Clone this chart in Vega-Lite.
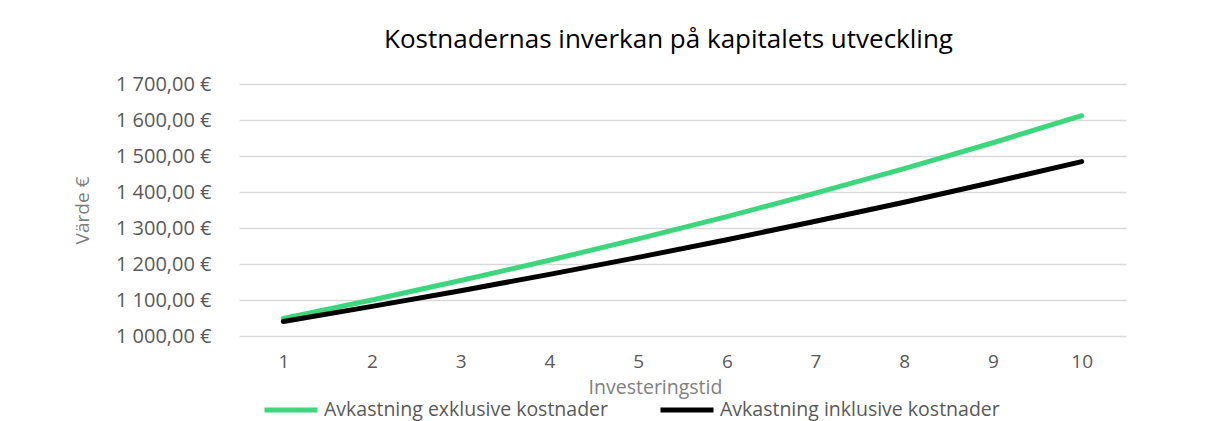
{
  "$schema": "https://vega.github.io/schema/vega-lite/v6.json",
  "width": 887,
  "height": 252,
  "autosize": {"type": "none"},
  "padding": {"left": 239, "top": 84, "right": 93, "bottom": 85},
  "background": "white",
  "title": {
    "text": "Kostnadernas inverkan på kapitalets utveckling",
    "font": "Open Sans",
    "fontSize": 26,
    "fontWeight": "normal",
    "color": "#000000",
    "dx": -14,
    "offset": 21
  },
  "config": {
    "locale": {
      "number": {"decimal": ",", "thousands": " ", "grouping": [3], "currency": ["", " €"]}
    },
    "view": {"stroke": null},
    "font": "Open Sans"
  },
  "data": {
    "values": [
      {"tid": 1, "serie": "Avkastning exklusive kostnader", "varde": 1048.9},
      {"tid": 2, "serie": "Avkastning exklusive kostnader", "varde": 1100.2},
      {"tid": 3, "serie": "Avkastning exklusive kostnader", "varde": 1154.0},
      {"tid": 4, "serie": "Avkastning exklusive kostnader", "varde": 1210.4},
      {"tid": 5, "serie": "Avkastning exklusive kostnader", "varde": 1269.6},
      {"tid": 6, "serie": "Avkastning exklusive kostnader", "varde": 1331.7},
      {"tid": 7, "serie": "Avkastning exklusive kostnader", "varde": 1396.8},
      {"tid": 8, "serie": "Avkastning exklusive kostnader", "varde": 1465.1},
      {"tid": 9, "serie": "Avkastning exklusive kostnader", "varde": 1536.8},
      {"tid": 10, "serie": "Avkastning exklusive kostnader", "varde": 1611.9},
      {"tid": 1, "serie": "Avkastning inklusive kostnader", "varde": 1040.3},
      {"tid": 2, "serie": "Avkastning inklusive kostnader", "varde": 1082.2},
      {"tid": 3, "serie": "Avkastning inklusive kostnader", "varde": 1125.8},
      {"tid": 4, "serie": "Avkastning inklusive kostnader", "varde": 1171.2},
      {"tid": 5, "serie": "Avkastning inklusive kostnader", "varde": 1218.4},
      {"tid": 6, "serie": "Avkastning inklusive kostnader", "varde": 1267.5},
      {"tid": 7, "serie": "Avkastning inklusive kostnader", "varde": 1318.6},
      {"tid": 8, "serie": "Avkastning inklusive kostnader", "varde": 1371.7},
      {"tid": 9, "serie": "Avkastning inklusive kostnader", "varde": 1427.0},
      {"tid": 10, "serie": "Avkastning inklusive kostnader", "varde": 1484.5}
    ]
  },
  "mark": {"type": "line", "strokeWidth": 5, "strokeCap": "round", "strokeJoin": "round"},
  "encoding": {
    "x": {
      "field": "tid",
      "type": "ordinal",
      "scale": {"type": "point", "padding": 0.5},
      "title": "Investeringstid",
      "axis": {
        "labelAngle": 0,
        "domain": false,
        "ticks": false,
        "grid": false,
        "labelFont": "Open Sans",
        "labelFontSize": 19,
        "labelColor": "#595959",
        "labelPadding": 16,
        "titleFont": "Open Sans",
        "titleFontSize": 19.5,
        "titleFontWeight": "normal",
        "titleColor": "#7f7f7f",
        "titlePadding": 7,
        "titleX": 416
      }
    },
    "y": {
      "field": "varde",
      "type": "quantitative",
      "scale": {"domain": [1000, 1700], "nice": false, "zero": false},
      "title": "Värde €",
      "axis": {
        "values": [1000, 1100, 1200, 1300, 1400, 1500, 1600, 1700],
        "format": "$,.2f",
        "domain": false,
        "ticks": false,
        "gridColor": "#d9d9d9",
        "gridWidth": 1.5,
        "labelFont": "Open Sans",
        "labelFontSize": 20,
        "labelColor": "#595959",
        "labelPadding": 28,
        "titleFont": "Open Sans",
        "titleFontSize": 19,
        "titleFontWeight": "normal",
        "titleColor": "#7f7f7f",
        "titlePadding": 23
      }
    },
    "color": {
      "field": "serie",
      "type": "nominal",
      "scale": {
        "domain": ["Avkastning exklusive kostnader", "Avkastning inklusive kostnader"],
        "range": ["#3ed67c", "#000000"]
      },
      "legend": {
        "title": null,
        "orient": "none",
        "direction": "horizontal",
        "legendX": 23,
        "legendY": 297,
        "symbolType": "stroke",
        "symbolSize": 2809,
        "symbolStrokeWidth": 5,
        "labelFont": "Open Sans",
        "labelFontSize": 19.5,
        "labelColor": "#595959",
        "labelOffset": 4,
        "columnPadding": 41,
        "labelLimit": 400
      }
    }
  }
}
